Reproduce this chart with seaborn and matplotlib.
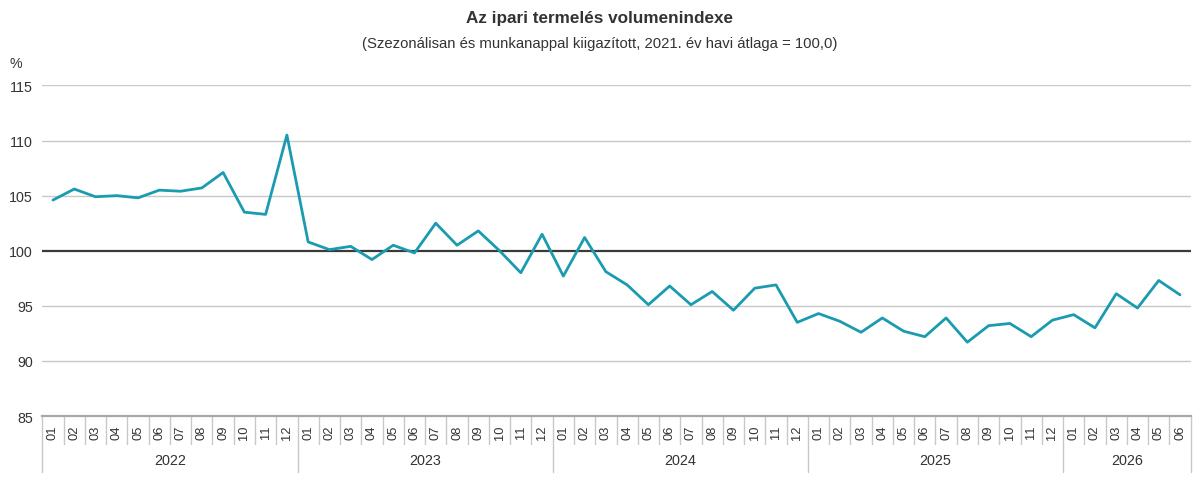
import numpy as np
import pandas as pd
import seaborn as sns
import matplotlib.pyplot as plt
import matplotlib.transforms as mtransforms

years = ["2022", "2023", "2024", "2025", "2026"]
months_per_year = [12, 12, 12, 12, 6]
month_labels = ["01", "02", "03", "04", "05", "06", "07", "08", "09", "10", "11", "12"]

index_2022 = [104.6, 105.6, 104.9, 105.0, 104.8, 105.5, 105.4, 105.7, 107.1, 103.5, 103.3, 110.5]
index_2023 = [100.8, 100.1, 100.4, 99.2, 100.5, 99.8, 102.5, 100.5, 101.8, 100.0, 98.0, 101.5]
index_2024 = [97.7, 101.2, 98.1, 96.9, 95.1, 96.8, 95.1, 96.3, 94.6, 96.6, 96.9, 93.5]
index_2025 = [94.3, 93.6, 92.6, 93.9, 92.7, 92.2, 93.9, 91.7, 93.2, 93.4, 92.2, 93.7]
index_2026 = [94.2, 93.0, 96.1, 94.8, 97.3, 96.0]

values = index_2022 + index_2023 + index_2024 + index_2025 + index_2026
labels = []
year_col = []
for y, n in zip(years, months_per_year):
    labels += month_labels[:n]
    year_col += [y] * n

df = pd.DataFrame({"pos": np.arange(len(values)), "month": labels,
                   "year": year_col, "index": values})

sns.set_style("white")
plt.rcParams["font.family"] = ["Liberation Sans", "DejaVu Sans"]

fig = plt.figure(figsize=(12, 4.89), dpi=100)
ax = fig.add_axes([0.0353, 0.1472, 0.9569, 0.6760])

grid_c = "#c8c8c8"
for v in [90, 95, 105, 110, 115]:
    ax.axhline(v, color=grid_c, lw=1.0, zorder=1)
ax.axhline(100, color="#3a3a3a", lw=1.6, zorder=2)

sns.lineplot(data=df, x="pos", y="index", ax=ax, color="#1a9bb0", lw=2.0, zorder=3)

ax.set_xlim(-0.5, len(values) - 0.5)
ax.set_ylim(85, 115)
ax.set_yticks([85, 90, 95, 100, 105, 110, 115])
ax.tick_params(axis="y", length=0, pad=7, labelsize=10.3, labelcolor="#333333")
ax.set_xticks(df["pos"])
ax.set_xticklabels(df["month"], rotation=90, fontsize=9.3, color="#333333")
ax.tick_params(axis="x", length=0, pad=6)
ax.set_xlabel("")
ax.set_ylabel("")

for s in ["top", "right", "left"]:
    ax.spines[s].set_visible(False)
ax.spines["bottom"].set_color("#a8a8a8")
ax.spines["bottom"].set_linewidth(1.6)

# month and year separators below the axis
trans = mtransforms.blended_transform_factory(ax.transData, ax.transAxes)
sep_c = "#c8c8c8"
starts = np.cumsum([0] + months_per_year[:-1])
year_starts = set(starts.tolist()) | {len(values)}
for b in range(len(values) + 1):
    bottom = -0.169 if b in year_starts else -0.085
    ax.plot([b - 0.5, b - 0.5], [0, bottom], transform=trans, color=sep_c,
            lw=1.0, clip_on=False)
for y, s, n in zip(years, starts, months_per_year):
    ax.text(s + (n - 1) / 2, -0.132, y, transform=trans, ha="center", va="center",
            fontsize=10.4, color="#333333")

fig.text(0.013, 0.869, "%", ha="center", va="center", fontsize=10.3, color="#333333")
fig.text(0.5, 0.963, "Az ipari termelés volumenindexe", ha="center", va="center",
         fontsize=12.3, fontweight="bold", color="#333333")
fig.text(0.5, 0.910, "(Szezonálisan és munkanappal kiigazított, 2021. év havi átlaga = 100,0)",
         ha="center", va="center", fontsize=10.7, color="#333333")

fig.savefig("out.png", dpi=100, facecolor="white")
